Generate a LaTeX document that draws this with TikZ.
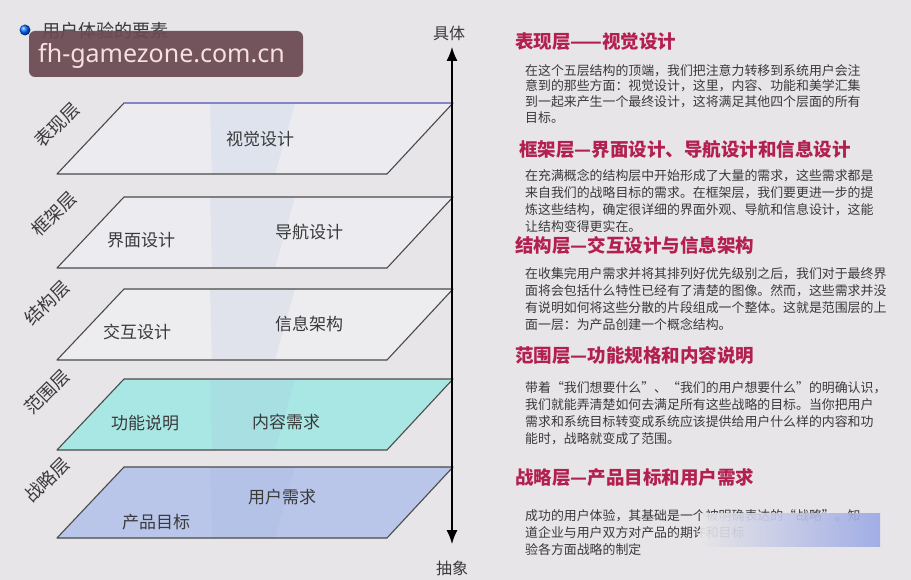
\documentclass[tikz,border=0pt]{standalone}
\usepackage{fontspec}
\newfontfamily\cjk{Noto Sans CJK SC}
\newfontfamily\wmfont{Noto Sans}
\usetikzlibrary{arrows.meta}
\XeTeXinterchartokenstate=1
\XeTeXinterchartoks 1 1 = {\hskip 0pt plus 1pt}
\XeTeXinterchartoks 1 2 = {\hskip 0pt plus 1pt}
\XeTeXinterchartoks 1 3 = {\hskip 0pt plus 1pt}
\XeTeXinterchartoks 2 1 = {\hskip 0pt plus 1pt}
\XeTeXinterchartoks 3 1 = {\hskip 0pt plus 1pt}
\XeTeXinterchartoks 3 2 = {\hskip 0pt plus 1pt}
\XeTeXinterchartoks 0 1 = {\hskip 0pt plus 1pt}
\XeTeXinterchartoks 1 0 = {\hskip 0pt plus 1pt}
\XeTeXinterchartoks 0 2 = {\hskip 0pt plus 1pt}
\XeTeXinterchartoks 3 0 = {\hskip 0pt plus 1pt}
\newcommand\jl[1]{\hbox to 363pt{#1}}
\definecolor{bg}{HTML}{E7E5E7}
\definecolor{lay1}{HTML}{EBEBF0}
\definecolor{lay2}{HTML}{ECEBEF}
\definecolor{lay3}{HTML}{EDECEF}
\definecolor{lay4}{HTML}{A9E7E4}
\definecolor{lay5}{HTML}{BAC5EA}
\definecolor{edge}{HTML}{4A4A4A}
\definecolor{topedge}{HTML}{8585C5}
\definecolor{head}{HTML}{B3204F}
\definecolor{body}{HTML}{3A3A3A}
\definecolor{wmbox}{HTML}{6B4952}
\definecolor{wmtext}{HTML}{F5E1E1}
\definecolor{band}{HTML}{9FB6E0}
\definecolor{smear}{HTML}{9AA8E6}
\begin{document}
\begin{tikzpicture}[x=1pt,y=-1pt,
  layerlbl/.style={font=\cjk\fontsize{18}{18}\selectfont, text=body, rotate=45, inner sep=0pt},
  inlbl/.style={font=\cjk\fontsize{17}{17}\selectfont, text=body, inner sep=0pt},
  heading/.style={font=\cjk\bfseries\fontsize{18.5}{18.5}\selectfont, text=head, anchor=west, inner sep=0pt},
  para/.style={font=\cjk\fontsize{12.9}{17}\selectfont, text=body, anchor=north west, align=left, inner sep=0pt},
  axislbl/.style={font=\cjk\fontsize{16}{16}\selectfont, text=body, inner sep=0pt},
  layeredge/.style={draw=edge, line width=1.1pt, line join=round}
]
\fill[bg] (0,0) rectangle (911,580);
\useasboundingbox (0,0) rectangle (911,580);

% layers
\foreach \t/\c in {103/lay1,197/lay2,289/lay3,379/lay4,467/lay5}{
  \path[fill=\c] (124,\t) -- (453,\t) -- (387,\t+71) -- (57,\t+71) -- cycle;
  \begin{scope}
    \clip (124,\t) -- (453,\t) -- (387,\t+71) -- (57,\t+71) -- cycle;
    \fill[band, opacity=0.15] (210,\t) -- (295,\t) -- (275,\t+71) -- (212,\t+71) -- cycle;
  \end{scope}
  \draw[layeredge] (124,\t) -- (453,\t) -- (387,\t+71) -- (57,\t+71) -- cycle;
}
\draw[topedge, line width=1.3pt] (124,103) -- (453,103);

% axis
\coordinate (atop) at (452,47);
\coordinate (abot) at (452,544);
\draw[line width=1.3pt, {Latex[length=14pt,width=11pt]}-{Latex[length=14pt,width=11pt]}] (atop) -- (abot);
\node[axislbl] (concrete) at (449,33) {具体};
\node[axislbl] (abstract) at (452,568) {抽象};

% layer side labels
\node[layerlbl] (l1) at (57,125) {表现层};
\node[layerlbl] (l2) at (54,214) {框架层};
\node[layerlbl] (l3) at (47,303) {结构层};
\node[layerlbl] (l4) at (47,392) {范围层};
\node[layerlbl] (l5) at (47,480) {战略层};

% inner labels
\node[inlbl] (visual) at (260,139) {视觉设计};
\node[inlbl] (iface) at (141,240) {界面设计};
\node[inlbl] (nav) at (309,232) {导航设计};
\node[inlbl] (inter) at (137,332) {交互设计};
\node[inlbl] (ia) at (309,324) {信息架构};
\node[inlbl] (func) at (145,423) {功能说明};
\node[inlbl] (content) at (286,422) {内容需求};
\node[inlbl] (userneed) at (282,497) {用户需求};
\node[inlbl] (goal) at (156,522) {产品目标};

% title and watermark
\shade[ball color=blue!60!cyan] (25,30) circle (5.5);
\node[font=\cjk\fontsize{18}{18}\selectfont, text=body, anchor=west, inner sep=0pt] (title) at (42,31) {用户体验的要素};
\fill[wmbox, opacity=0.93, rounded corners=6pt] (29,31) rectangle (303,77);
\node[font=\wmfont\fontsize{25}{25}\selectfont, text=wmtext, anchor=west, inner sep=0pt] (wm) at (38,56) {fh-gamezone.com.cn};

% right column
\node[heading] (h1) at (515,42) {表现层——视觉设计};
\node[para, font=\cjk\fontsize{12.9}{15.7}\selectfont] (p1) at (525,64) {%
\jl{在这个五层结构的顶端，我们把注意力转移到系统用户会注}\\
\jl{意到的那些方面：视觉设计，这里，内容、功能和美学汇集}\\
\jl{到一起来产生一个最终设计，这将满足其他四个层面的所有}\\
目标。};

\node[heading] (h2) at (519,149) {框架层—界面设计、导航设计和信息设计};
\node[para] (p2) at (525,169) {%
\jl{在充满概念的结构层中开始形成了大量的需求，这些需求都是}\\
\jl{来自我们的战略目标的需求。在框架层，我们要更进一步的提}\\
\jl{炼这些结构，确定很详细的界面外观、导航和信息设计，这能}\\
让结构变得更实在。};

\node[heading] (h3) at (515,245) {结构层—交互设计与信息架构};
\node[para] (p3) at (525,267) {%
\jl{在收集完用户需求并将其排列好优先级别之后，我们对于最终界}\\
\jl{面将会包括什么特性已经有了清楚的图像。然而，这些需求并没}\\
\jl{有说明如何将这些分散的片段组成一个整体。这就是范围层的上}\\
面一层：为产品创建一个概念结构。};

\node[heading] (h4) at (515,355) {范围层—功能规格和内容说明};
\node[para] (p4) at (525,381) {%
\jl{带着“我们想要什么”、“我们的用户想要什么”的明确认识，}\\
\jl{我们就能弄清楚如何去满足所有这些战略的目标。当你把用户}\\
\jl{需求和系统目标转变成系统应该提供给用户什么样的内容和功}\\
能时，战略就变成了范围。};

\node[heading] (h5) at (515,478) {战略层—产品目标和用户需求};
\node[para] (p5) at (525,509) {%
\hbox to 345pt{成功的用户体验，其基础是一个被明确表达的“战略”。知}\\
道企业与用户双方对产品的期许和目标\\
验各方面战略的制定};
\shade[left color=bg, right color=smear, opacity=0.9] (700,513) rectangle (880,546);
\end{tikzpicture}
\end{document}
